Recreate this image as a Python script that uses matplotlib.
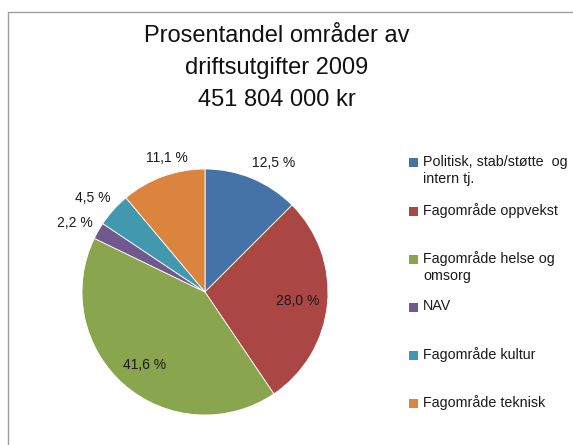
import matplotlib.pyplot as plt
import matplotlib
import numpy as np
from matplotlib.patches import Rectangle

matplotlib.rcParams['font.family'] = ['Liberation Sans', 'DejaVu Sans']

# data
categories = ['Politisk, stab/støtte  og\nintern tj.', 'Fagområde oppvekst',
              'Fagområde helse og\nomsorg', 'NAV', 'Fagområde kultur',
              'Fagområde teknisk']
values = [12.5, 28.0, 41.6, 2.2, 4.5, 11.1]
pct_labels = ['12,5 %', '28,0 %', '41,6 %', '2,2 %', '4,5 %', '11,1 %']
colors = ['#4572A7', '#AA4643', '#89A54E', '#71588F', '#4198AF', '#DB843D']
label_dist = [1.19, 0.76, 0.77, 1.2, 1.19, 1.13]
label_shift = [-5.5, 0, 1.5, 2, 2, -4]   # degrees

W, H = 573, 445
fig = plt.figure(figsize=(W / 100, H / 100), dpi=100)

# chart border
fig.patches.append(Rectangle((8 / W, -0.1), 1.2, (H - 12) / H + 0.1,
                             transform=fig.transFigure, fill=False,
                             edgecolor='#A0A0A0', linewidth=1.0))

# title
fig.text(277 / W, 1 - 68 / H, 'Prosentandel områder av\ndriftsutgifter 2009\n451 804 000 kr',
         ha='center', va='center', fontsize=17, linespacing=1.58, color='#111111')

# pie
cx, cy, r = 205, 292, 123
ax = fig.add_axes([(cx - r) / W, (H - cy - r) / H, 2 * r / W, 2 * r / H])
wedges, _ = ax.pie(values, colors=colors, startangle=90, counterclock=False,
                   wedgeprops=dict(edgecolor='white', linewidth=0.6))
ax.set_xlim(-1, 1)
ax.set_ylim(-1, 1)
ax.set_aspect('equal')
ax.axis('off')

for w, lab, d, s in zip(wedges, pct_labels, label_dist, label_shift):
    ang = np.deg2rad((w.theta1 + w.theta2) / 2 + s)
    ax.text(d * np.cos(ang), d * np.sin(ang), lab, ha='center', va='center',
            fontsize=10, color='#1a1a1a', clip_on=False)

# legend
for i, (lab, c) in enumerate(zip(categories, colors)):
    y = 163 + 48 * i
    fig.patches.append(Rectangle((409 / W, 1 - (y + 4.5) / H), 9 / W, 9 / H,
                                 transform=fig.transFigure, facecolor=c,
                                 edgecolor='none'))
    fig.text(423 / W, 1 - (y - 8) / H, lab, ha='left', va='top', fontsize=10.3,
             linespacing=1.25, color='#1a1a1a')

plt.savefig('out.png', dpi=100)
